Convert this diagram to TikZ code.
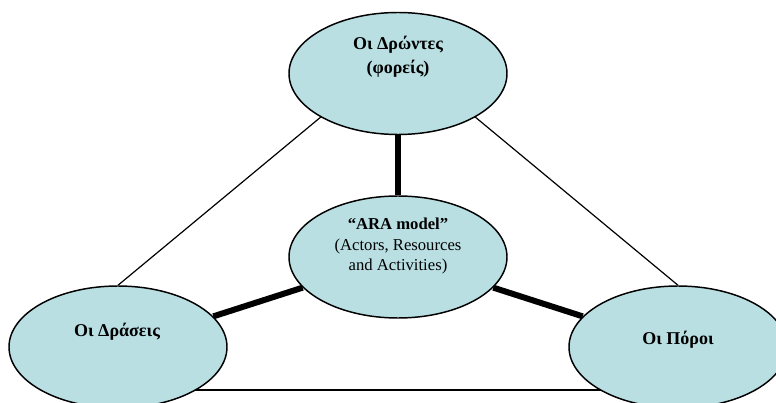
\documentclass[tikz,border=0pt]{standalone}
\usepackage{fontspec}
\setmainfont{Liberation Serif}
\usetikzlibrary{shapes.geometric,backgrounds}
\definecolor{paleteal}{RGB}{185,223,227}
\tikzset{
    blob/.style={ellipse, draw, line width=1.1pt, fill=paleteal,
        minimum width=163.5pt, minimum height=91.5pt, inner sep=0pt},
    tag/.style={align=center, font=\fontsize{13.5}{16}\selectfont\bfseries},
    note/.style={align=center, font=\fontsize{12.5}{15.5}\selectfont},
    thinlink/.style={line width=0.9pt},
    baselink/.style={line width=1.3pt},
    thicklink/.style={line width=4.5pt}
}
\begin{document}
\begin{tikzpicture}[x=0.75pt,y=-0.75pt]
    \useasboundingbox (0,0) rectangle (776,403);
    \node[blob] (actors) at (398,73.5) {};
    \node[blob] (model) at (398,257) {};
    \node[blob] (activities) at (118,347) {};
    \node[blob] (resources) at (678,347) {};
    \node[tag] (actorsText) at (398,57) {Οι Δρώντες\\[2pt](φορείς)};
    \node[note] (modelText) at (398,246) {\textbf{“ARA model”}\\(Actors, Resources\\and Activities)};
    \node[tag] (activitiesText) at (117,332) {Οι Δράσεις};
    \node[tag] (resourcesText) at (678,340) {Οι Πόροι};
    \coordinate (apex) at (398,53);
    \coordinate (baseL) at (118,390);
    \coordinate (baseR) at (678,390);
    \begin{scope}[on background layer]
        \draw[thinlink] (apex) -- (activities.north);
        \draw[thinlink] (apex) -- (resources.north);
        \draw[baselink] (baseL) -- (baseR);
        \draw[thicklink] (model) -- (actors);
        \draw[thicklink] (model) -- (activities);
        \draw[thicklink] (model) -- (resources);
    \end{scope}
\end{tikzpicture}
\end{document}
